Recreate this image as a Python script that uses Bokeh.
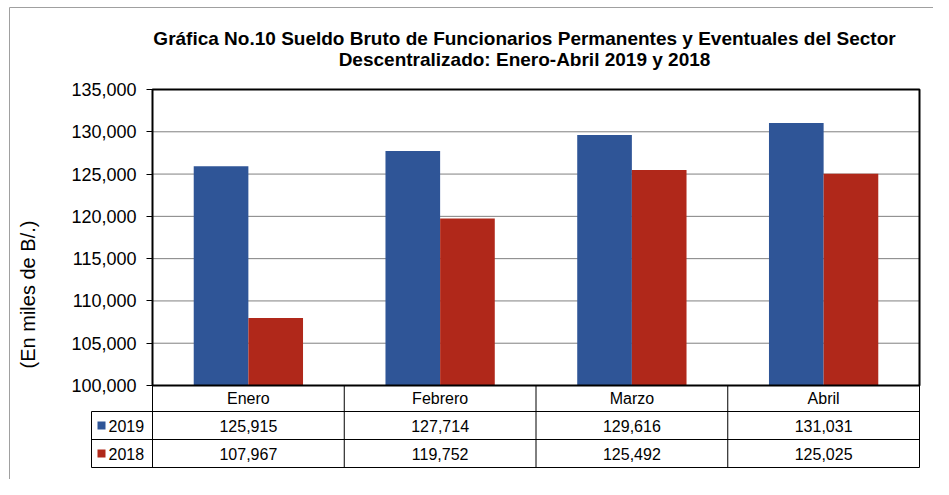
import math
from bokeh.plotting import figure
from bokeh.models import Range1d, NumeralTickFormatter, FixedTicker
from bokeh.embed import file_html
from bokeh.resources import INLINE
from bokeh.core.properties import value

# ---------------- data ----------------
months = ["Enero", "Febrero", "Marzo", "Abril"]
series = ["2019", "2018"]
v2019 = [125915, 127714, 129616, 131031]
v2018 = [107967, 119752, 125492, 125025]
y_ticks = [100000, 105000, 110000, 115000, 120000, 125000, 130000, 135000]
title_lines = ["Gráfica No.10 Sueldo Bruto de Funcionarios Permanentes y Eventuales del Sector",
               "Descentralizado: Enero-Abril 2019 y 2018"]
y_label = "(En miles de B/.)"
colors = ["#2F5597", "#B0281A"]

# ---------------- layout constants (screen px) ----------------
FONT = value("Liberation Sans")
W, H = 933, 479
FR_L, FR_R, FR_T, FR_B = 152, 919, 89, 385      # chart plot area
ROWS = [385, 411, 439, 467]                     # data-table row edges
LEG_L = 91                                      # legend column left edge
KEY_CX, KEY_SIZE, KEY_TXT = 101, 8, 108
TITLE_X, TITLE_Y = 524, [38, 59]
YLAB_X, YLAB_Y = 27, 294
BORDER_X, BORDER_Y = 9, 7
BAR_W = 0.285                                   # fraction of a category slot

n = len(months)
CW = (FR_R - FR_L) / n
Y0, Y1 = y_ticks[0], y_ticks[-1]
KY = (Y1 - Y0) / (FR_B - FR_T)


def cx(px):            # screen x -> category-slot units (slot i spans i..i+1)
    return (px - FR_L) / CW


def cy(py):            # screen y -> value units
    return Y0 + (FR_B - py) * KY


# ---------------- figure: the frame is the whole canvas ----------------
p = figure(width=W, height=H, x_range=Range1d(cx(0), cx(W)), y_range=Range1d(cy(H), cy(0)),
           x_axis_location=None, y_axis_location="left", output_backend="svg",
           toolbar_location=None, min_border_left=0, min_border_right=0,
           min_border_top=0, min_border_bottom=0)
p.title_location = None
p.outline_line_color = None
p.grid.visible = False

# y axis drawn at the left edge of the plot area
ax = p.yaxis[0]
ax.fixed_location = 0
ax.bounds = (Y0, Y1)
ax.ticker = FixedTicker(ticks=y_ticks)
ax.formatter = NumeralTickFormatter(format="0,0")
ax.major_label_text_font = "Liberation Sans"
ax.major_label_text_font_size = "18px"
ax.major_label_text_color = "black"
ax.major_label_standoff = 10
ax.major_tick_out = 6
ax.major_tick_in = 0
ax.minor_tick_line_color = None
ax.major_tick_line_color = "black"
ax.axis_line_color = "black"

# outer chart-area border (left and top edges visible)
p.segment(x0=[cx(BORDER_X), cx(BORDER_X)], y0=[cy(BORDER_Y), cy(BORDER_Y)],
          x1=[cx(BORDER_X), cx(W + 5)], y1=[cy(H + 5), cy(BORDER_Y)],
          line_color="#a0a0a0", line_width=1)

# dotted gridlines
inner = y_ticks[1:-1]
p.segment(x0=[0] * len(inner), x1=[n] * len(inner), y0=inner, y1=inner,
          line_color="black", line_width=1, line_dash="1 1")

# bars
idx = list(range(n))
p.vbar(x=[i + 0.5 - BAR_W / 2 for i in idx], top=v2019, bottom=Y0, width=BAR_W,
       fill_color=colors[0], line_color=None)
p.vbar(x=[i + 0.5 + BAR_W / 2 for i in idx], top=v2018, bottom=Y0, width=BAR_W,
       fill_color=colors[1], line_color=None)

# plot-area frame
p.quad(left=[0], right=[n], bottom=[Y0], top=[Y1], fill_color=None,
       line_color="black", line_width=2)

# title
p.text(x=[cx(TITLE_X)] * 2, y=[cy(t) for t in TITLE_Y], text=title_lines,
       text_font=FONT, text_font_size="19px", text_font_style="bold", text_color="black",
       text_align="center", text_baseline="alphabetic")

# y-axis title
p.text(x=[cx(YLAB_X)], y=[cy(YLAB_Y)], text=[y_label], angle=math.pi / 2,
       text_font=FONT, text_font_size="20px", text_color="black",
       text_align="center", text_baseline="middle")

# ---------------- data table ----------------
hy = [cy(r) for r in ROWS[1:]]
p.segment(x0=[cx(LEG_L)] * 3, x1=[n] * 3, y0=hy, y1=hy, line_color="black", line_width=1)
vx = list(range(n + 1)) + [cx(LEG_L)]
vy0 = [cy(ROWS[0])] * (n + 1) + [cy(ROWS[1])]
p.segment(x0=vx, x1=vx, y0=vy0, y1=[cy(ROWS[-1])] * (n + 2), line_color="black", line_width=1)

centers = [cy((ROWS[i] + ROWS[i + 1]) / 2) for i in range(3)]
xs = [i + 0.5 for i in idx]
for row_y, labels in zip(centers, [months, [f"{v:,}" for v in v2019], [f"{v:,}" for v in v2018]]):
    p.text(x=xs, y=[row_y] * n, text=labels, text_font=FONT, text_font_size="16px",
           text_color="black", text_align="center", text_baseline="middle")

# legend keys inside the table
p.scatter(x=[cx(KEY_CX)] * 2, y=centers[1:], marker="square", size=KEY_SIZE,
          fill_color=colors, line_color=None)
p.text(x=[cx(KEY_TXT)] * 2, y=centers[1:], text=series, text_font=FONT,
       text_font_size="16px", text_color="black", text_align="left", text_baseline="middle")

open("out.html", "w").write(file_html(p, INLINE))
